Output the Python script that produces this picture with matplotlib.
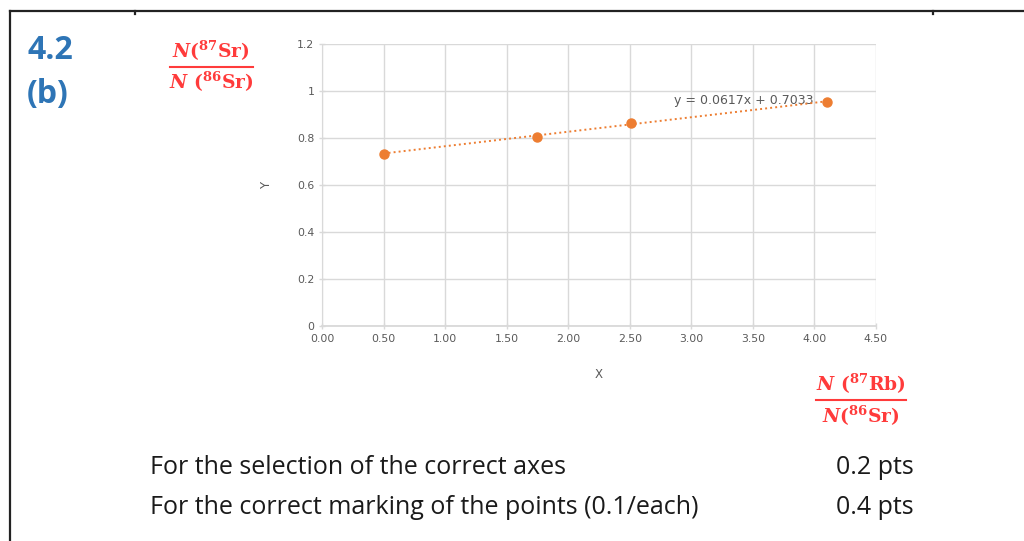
import matplotlib

matplotlib.use("Agg")

import matplotlib.pyplot as plt
from matplotlib.lines import Line2D

plt.rcParams["mathtext.fontset"] = "custom"
plt.rcParams["mathtext.rm"] = "DejaVu Serif:bold"
plt.rcParams["mathtext.bf"] = "DejaVu Serif:bold"
plt.rcParams["mathtext.it"] = "DejaVu Serif:italic:bold"

# isotope ratio data
rb_sr = [0.50, 1.75, 2.51, 4.10]
sr_sr = [0.734, 0.806, 0.862, 0.955]
slope, intercept = 0.0617, 0.7033

x_ticks = [0.0, 0.5, 1.0, 1.5, 2.0, 2.5, 3.0, 3.5, 4.0, 4.5]
y_ticks = [0.0, 0.2, 0.4, 0.6, 0.8, 1.0, 1.2]
y_labels = ["0", "0.2", "0.4", "0.6", "0.8", "1", "1.2"]

score_rows = ["For the selection of the correct axes",
              "For the correct marking of the points (0.1/each)"]
score_pts = ["0.2 pts", "0.4 pts"]

ORANGE = "#ED7D31"
GRID = "#D9D9D9"
TICKTXT = "#595959"
RED = "#FF3B3B"
BLUE = "#2E75B6"

W, H = 1024, 541
fig = plt.figure(figsize=(W / 100, H / 100), dpi=100)


def fx(px):
    return px / W


def fy(py):
    return 1 - py / H


# page frame
fig.add_artist(Line2D([fx(10), fx(1024)], [fy(11), fy(11)], color="#222222", lw=1.6))
fig.add_artist(Line2D([fx(10), fx(10)], [fy(11), fy(541)], color="#222222", lw=1.6))
for tx in [135, 933]:
    fig.add_artist(Line2D([fx(tx), fx(tx)], [fy(11), fy(14)], color="#222222", lw=1.6))

fig.text(fx(27), fy(50), "4.2", color=BLUE, fontsize=23, fontweight="bold",
         family="Open Sans", va="center", ha="left")
fig.text(fx(27), fy(94), "(b)", color=BLUE, fontsize=23, fontweight="bold",
         family="Open Sans", va="center", ha="left")

# red fraction labels
fig.text(fx(211), fy(51), r"$\mathit{N}(^{87}\mathrm{Sr})$", color=RED, fontsize=13.5,
         ha="center", va="center")
fig.add_artist(Line2D([fx(170), fx(253)], [fy(67), fy(67)], color=RED, lw=1.5))
fig.text(fx(211), fy(82), r"$\mathit{N}\ (^{86}\mathrm{Sr})$", color=RED, fontsize=13.5,
         ha="center", va="center")

fig.text(fx(861), fy(384), r"$\mathit{N}\ (^{87}\mathrm{Rb})$", color=RED, fontsize=13.5,
         ha="center", va="center")
fig.add_artist(Line2D([fx(816), fx(906)], [fy(400), fy(400)], color=RED, lw=1.5))
fig.text(fx(861), fy(416), r"$\mathit{N}(^{86}\mathrm{Sr})$", color=RED, fontsize=13.5,
         ha="center", va="center")

# chart
ax = fig.add_axes([fx(322), fy(326), fx(876 - 322), (326 - 44) / H])
ax.set_xlim(0, 4.5)
ax.set_ylim(0, 1.2)
ax.set_xticks(x_ticks, labels=[f"{v:.2f}" for v in x_ticks])
ax.set_yticks(y_ticks, labels=y_labels)
ax.grid(True, color=GRID, lw=1.0)
ax.set_axisbelow(True)
for side in ["top", "right"]:
    ax.spines[side].set_visible(False)
ax.spines["left"].set_color(GRID)
ax.spines["bottom"].set_color(GRID)
ax.spines["bottom"].set_linewidth(1.3)
ax.tick_params(axis="both", colors=GRID, labelcolor=TICKTXT, labelsize=7.8,
               length=4, width=1.0, direction="inout")
ax.tick_params(axis="x", pad=4)
ax.set_xlabel("X", color=TICKTXT, fontsize=8.5, labelpad=17)
ax.set_ylabel("Y", color=TICKTXT, fontsize=8.5, labelpad=17)

fit_x = [min(rb_sr), max(rb_sr)]
fit_y = [slope * v + intercept for v in fit_x]
ax.plot(fit_x, fit_y, color=ORANGE, lw=1.4, ls=(0, (1, 1.6)), zorder=3)
ax.plot(rb_sr, sr_sr, ls="none", marker="o", ms=6.5, color=ORANGE, zorder=4)
ax.text(3.99, 0.958, f"y = {slope}x + {intercept}", color=TICKTXT, fontsize=9,
        ha="right", va="center", zorder=2)

# scoring rows
for i, (label, pts) in enumerate(zip(score_rows, score_pts)):
    yy = fy(467 + 40 * i)
    fig.text(fx(150), yy, label, fontsize=18, family="Open Sans", color="#1a1a1a",
             va="center", ha="left")
    fig.text(fx(914), yy, pts, fontsize=18, family="Open Sans", color="#1a1a1a",
             va="center", ha="right")

fig.savefig("out.png", dpi=100, facecolor="white")
